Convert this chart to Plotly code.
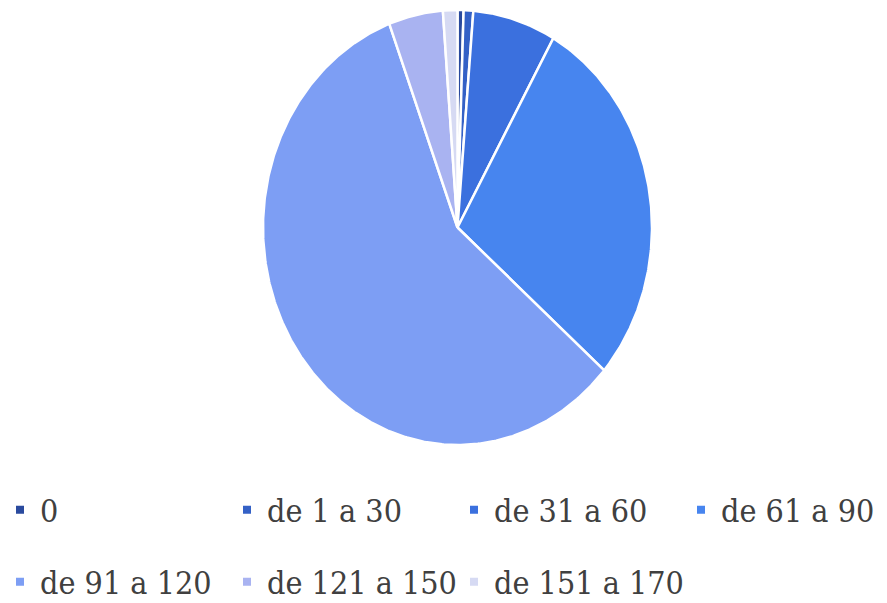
import numpy as np
import plotly.graph_objects as go

# Share of each range (percent), in drawing order clockwise from 12 o'clock
categories = ["0", "de 1 a 30", "de 31 a 60", "de 61 a 90",
              "de 91 a 120", "de 121 a 150", "de 151 a 170"]
shares = [0.5, 0.8, 6.9, 28.2, 57.9, 4.5, 1.2]
colors = ["#2a4a9e", "#3461c6", "#3b70de", "#4785ef",
          "#7d9ef4", "#a9b3f1", "#d6daf3"]

W, H = 887, 603

fig = go.Figure()

# Pie slices as filled wedges on an x/y plane (stretched to an ellipse by the axes)
total = float(sum(shares))
start = 0.0
for name, val, col in zip(categories, shares, colors):
    end = start + val / total * 2 * np.pi
    n = max(4, int(np.ceil((end - start) / (2 * np.pi) * 720)) + 1)
    t = np.linspace(start, end, n)
    xs = np.concatenate([[0.0], np.sin(t), [0.0]])
    ys = np.concatenate([[0.0], np.cos(t), [0.0]])
    fig.add_trace(go.Scatter(
        x=xs, y=ys, mode="lines", fill="toself", fillcolor=col,
        line=dict(color="white", width=2.5), hoverinfo="skip",
        showlegend=False, name=name,
    ))
    start = end

# Legend entries: first row in "legend", second row in "legend2"
for i, (name, col) in enumerate(zip(categories, colors)):
    fig.add_trace(go.Scatter(
        x=[None], y=[None], mode="markers", name=name,
        marker=dict(symbol="square", size=8, color=col),
        legend="legend" if i < 4 else "legend2",
        legendwidth=156 if i == 3 else (210 if i == 6 else None),
        hoverinfo="skip",
    ))

legend_font = dict(family="DejaVu Serif Condensed, DejaVu Serif", size=32, color="#404040")
legend_common = dict(
    orientation="h", x=0.0, xanchor="left", yanchor="middle",
    entrywidth=182, entrywidthmode="pixels", font=legend_font,
    bgcolor="rgba(0,0,0,0)", itemclick=False, itemdoubleclick=False,
    tracegroupgap=0,
)

fig.update_layout(
    width=W, height=H, autosize=False,
    margin=dict(l=0, r=0, t=0, b=0, autoexpand=False),
    paper_bgcolor="white", plot_bgcolor="white",
    font=dict(family="DejaVu Serif Condensed, DejaVu Serif", color="#404040"),
    xaxis=dict(range=[-1, 1], domain=[263 / W, 652 / W], visible=False, fixedrange=True),
    yaxis=dict(range=[-1, 1], domain=[(H - 445) / H, (H - 10) / H], visible=False, fixedrange=True),
    legend=dict(y=(H - 510) / H, **legend_common),
    legend2=dict(y=(H - 582) / H, **legend_common),
    showlegend=True,
)

fig.write_html("out.html", config={"displayModeBar": False})
